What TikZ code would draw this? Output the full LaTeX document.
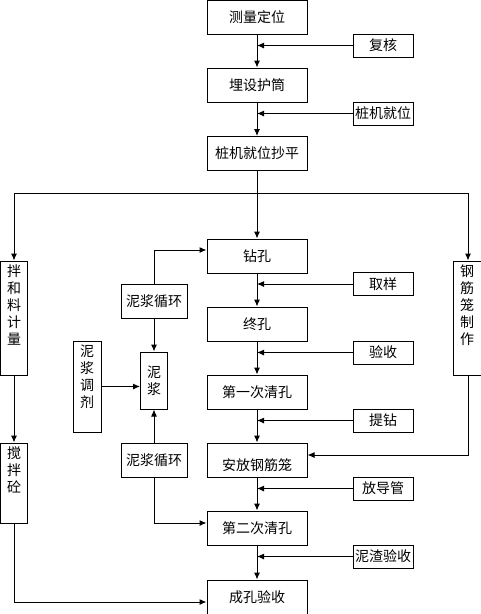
\documentclass[tikz,border=0pt]{standalone}
\usepackage{fontspec}
\setmainfont{Noto Sans CJK SC}
\usepackage{tikz}
\usetikzlibrary{arrows.meta, positioning}
\tikzset{
	stepbox/.style={rectangle, draw=black, minimum width=100pt, minimum height=34pt, inner sep=1pt, align=center},
	notebox/.style={rectangle, draw=black, minimum width=60pt, minimum height=23pt, inner sep=1pt},
	% boxes written one character per line
	colbox/.style={rectangle, draw=black, minimum width=27pt, inner sep=1pt, align=center},
	coltext/.style={anchor=north, align=center, inner sep=0pt, yshift=-4pt},
	flow/.style={-{Latex[length=7pt, width=6pt]}},
}

\begin{document}
\begin{tikzpicture}[x=1pt, y=-1pt, line width=1pt, font=\fontsize{14}{17}\selectfont]
	\useasboundingbox (0,0) rectangle (480,614);
	\node[stepbox] (survey) at (257,17) {测量定位};
	\node[stepbox] (casing) at (257,85) {埋设护筒};
	\node[stepbox] (level) at (257,153.5) {桩机就位抄平};
	\node[stepbox] (drill) at (257,256) {钻孔};
	\node[stepbox] (finish) at (257,324) {终孔};
	\node[stepbox] (clean1) at (257,392) {第一次清孔};
	\node[stepbox, text height=20pt, text depth=0pt] (cage) at (257,460) {安放钢筋笼};
	\node[stepbox] (clean2) at (257,528) {第二次清孔};
	\node[stepbox] (accept) at (257,597) {成孔验收};
	\foreach \n/\y/\t in {recheck/45.5/复核, rigpos/113.5/桩机就位, sample/284/取样, check/352.5/验收, lift/420.5/提钻, tube/488.5/放导管, slag/556.5/泥渣验收}
	\node[notebox] (\n) at (383,\y) {\t};
	\node[colbox, minimum height=114pt, label={[coltext]north:拌\\和\\料\\计\\量}] (mix) at (14,318) {};
	\node[colbox, minimum height=80pt, label={[coltext]north:搅\\拌\\砼}] (concrete) at (14,483) {};
	\node[colbox, minimum width=30pt, minimum height=114pt, label={[coltext, xshift=-1pt]north:钢\\筋\\笼\\制\\作}] (cagemake) at (468,318) {};
	\node[colbox, minimum width=28pt, minimum height=91pt, label={[coltext]north:泥\\浆\\调\\剂}] (mudmix) at (87,386.5) {};
	\node[colbox, minimum height=57pt] (mud) at (154,380.5) {泥\\浆};
	\node[stepbox, minimum width=66pt] (circ1) at (154,301) {泥浆循环};
	\node[stepbox, minimum width=66pt] (circ2) at (154,460) {泥浆循环};
	\coordinate (split) at (257,193);
	\foreach \a/\b in {survey/casing, casing/level, drill/finish, finish/clean1, clean1/cage, cage/clean2, clean2/accept}
	\draw[flow] (\a) -- (\b);
	\foreach \n in {recheck, rigpos, sample, check, lift, tube, slag}
	\draw[flow] (\n.west) -- (\n.west -| survey.south);
	\draw (level) -- (split);
	\draw[flow] (split) -- (drill);
	\draw[flow] (split) -| (mix.north);
	\draw[flow] (split) -| (cagemake.north);
	\draw[flow] (mix) -- (concrete);
	\draw[flow] (concrete.south) |- ([yshift=-5pt]accept.west);
	\draw[flow] (cagemake.south) |- ([yshift=5pt]cage.east);
	\draw[flow] (circ1.north) |- ([yshift=6pt]drill.west);
	\draw[flow] (circ1) -- (mud);
	\draw[flow] (circ2) -- (mud);
	\draw[flow] (mudmix.east) -- (mudmix.east -| mud.west);
	\draw[flow] (circ2.south) |- ([yshift=5pt]clean2.west);
\end{tikzpicture}
\end{document}
